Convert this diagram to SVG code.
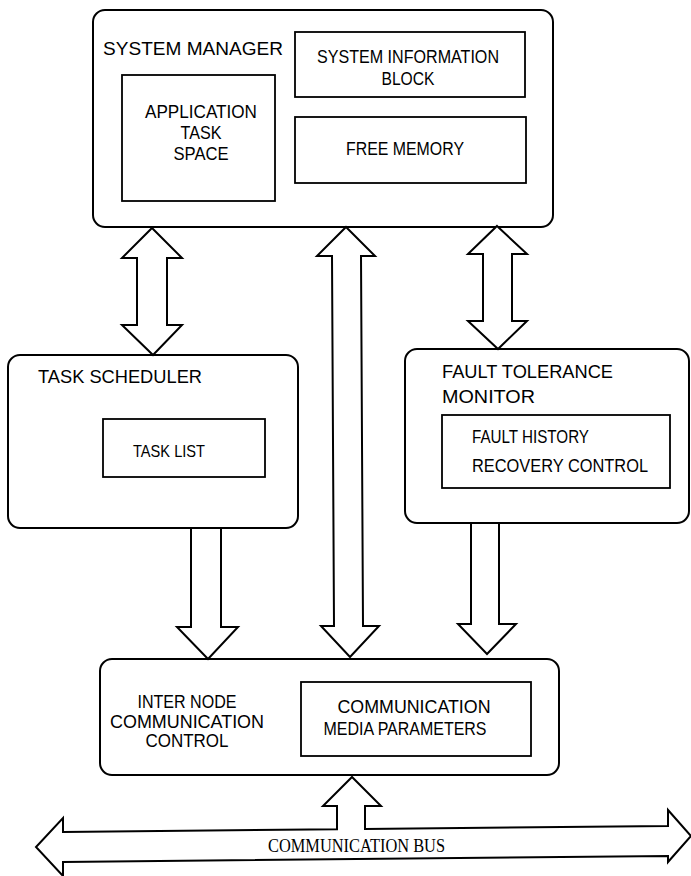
<svg xmlns="http://www.w3.org/2000/svg" width="691" height="876" viewBox="0 0 691 876">
<style>
.box{fill:#fff;stroke:#000;stroke-width:2}
.inner{fill:none;stroke:#000;stroke-width:1.8}
.arrow{fill:#fff;stroke:#000;stroke-width:2;stroke-linejoin:miter}
text{font-family:"Liberation Sans",Arial,sans-serif;fill:#000;font-size:18px}
.c{text-anchor:middle}
.serif{font-family:"Liberation Serif","Times New Roman",serif;font-size:18px}
</style>
<rect width="691" height="876" fill="#fff"/>
<g id="system-manager">
<rect class="box" x="93" y="10" width="460" height="217" rx="12"/>
<text x="103" y="55" textLength="180" lengthAdjust="spacingAndGlyphs" style="font-size:19px">SYSTEM MANAGER</text>
<rect class="inner" x="295" y="32" width="230" height="65"/>
<text class="c" x="408" y="63" textLength="182" lengthAdjust="spacingAndGlyphs">SYSTEM INFORMATION</text>
<text class="c" x="408" y="85" textLength="53" lengthAdjust="spacingAndGlyphs">BLOCK</text>
<rect class="inner" x="295" y="117" width="231" height="66"/>
<text class="c" x="405" y="155" textLength="118" lengthAdjust="spacingAndGlyphs">FREE MEMORY</text>
<rect class="inner" x="122" y="75" width="153" height="126"/>
<text class="c" x="201" y="118" textLength="112" lengthAdjust="spacingAndGlyphs">APPLICATION</text>
<text class="c" x="201" y="139" textLength="41" lengthAdjust="spacingAndGlyphs">TASK</text>
<text class="c" x="201" y="160" textLength="55" lengthAdjust="spacingAndGlyphs">SPACE</text>
</g>
<g id="task-scheduler">
<rect class="box" x="8" y="355" width="290" height="173" rx="12"/>
<text x="38" y="383" textLength="164" lengthAdjust="spacingAndGlyphs" style="font-size:19px">TASK SCHEDULER</text>
<rect class="inner" x="103" y="419" width="162" height="58"/>
<text x="133" y="457" textLength="72" lengthAdjust="spacingAndGlyphs" style="font-size:17px">TASK LIST</text>
</g>
<g id="fault-tolerance-monitor">
<rect class="box" x="405" y="349" width="284" height="174" rx="12"/>
<text x="442" y="378" textLength="171" lengthAdjust="spacingAndGlyphs" style="font-size:19px">FAULT TOLERANCE</text>
<text x="442" y="403" textLength="93" lengthAdjust="spacingAndGlyphs" style="font-size:19px">MONITOR</text>
<rect class="inner" x="442" y="415" width="228" height="73"/>
<text x="472" y="443" textLength="117" lengthAdjust="spacingAndGlyphs">FAULT HISTORY</text>
<text x="472" y="472" textLength="176" lengthAdjust="spacingAndGlyphs">RECOVERY CONTROL</text>
</g>
<g id="inter-node-communication-control">
<rect class="box" x="100" y="659" width="459" height="116" rx="12"/>
<text class="c" x="187" y="708" textLength="99" lengthAdjust="spacingAndGlyphs">INTER NODE</text>
<text class="c" x="187" y="728" textLength="154" lengthAdjust="spacingAndGlyphs">COMMUNICATION</text>
<text class="c" x="187" y="747" textLength="83" lengthAdjust="spacingAndGlyphs">CONTROL</text>
<rect class="inner" x="301" y="682" width="230" height="74"/>
<text class="c" x="414" y="713" textLength="153" lengthAdjust="spacingAndGlyphs">COMMUNICATION</text>
<text class="c" x="405" y="735" textLength="163" lengthAdjust="spacingAndGlyphs">MEDIA PARAMETERS</text>
</g>
<g id="connectors">
<polygon class="arrow" points="152,228 182,258 167,258 167,325 182,325 153,355 122,325 137,325 137,258 122,258"/>
<polygon class="arrow" points="346,227 375,256 361,256 363,626 379,626 350,657 321,626 334,626 332,256 317,256"/>
<polygon class="arrow" points="497,226 527,254 512,254 512,321 527,321 498,349 468,321 483,321 483,254 468,254"/>
<path class="arrow" d="M191,529 V627 H177 L208,659 L238,627 H221 V529"/>
<path class="arrow" d="M471,524 V624 H458 L487,654 L516,624 H499 V524"/>
</g>
<g id="communication-bus">
<path class="arrow" d="M63,832 L337,829.3 L337,806 L323,806 L352,777 L381,806 L365,806 L365,829 L668,826 L668,810 L691,836 L668,862 L668,856 L63,862 L63,876 L36,847 L63,818 Z"/>
<text class="serif" x="268" y="852" textLength="177" lengthAdjust="spacingAndGlyphs">COMMUNICATION BUS</text>
</g>
</svg>
